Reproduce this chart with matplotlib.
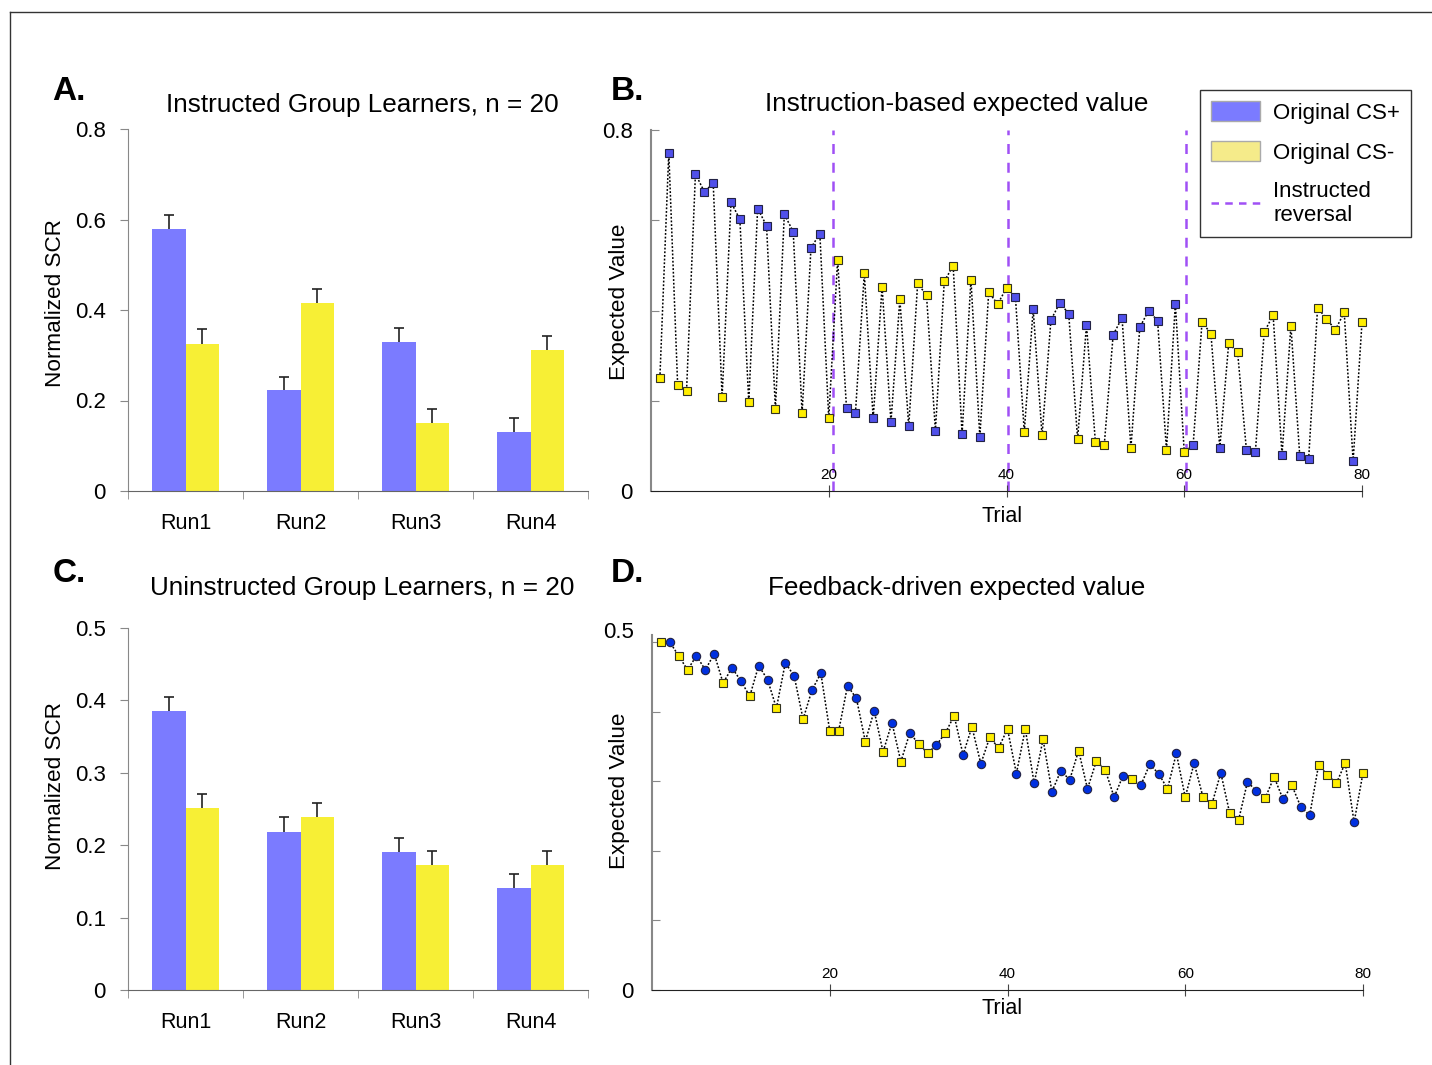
import numpy as np
import matplotlib
matplotlib.use("Agg")
import matplotlib.pyplot as plt
import matplotlib.transforms as mtransforms
from matplotlib.lines import Line2D
from matplotlib.patches import Patch

plt.rcParams['font.family'] = ['Liberation Sans', 'DejaVu Sans']

# ---- data ----
runs = ["Run1", "Run2", "Run3", "Run4"]

instr_cs_plus = [0.579, 0.223, 0.329, 0.130]
instr_cs_plus_err = [0.031, 0.029, 0.031, 0.031]
instr_cs_minus = [0.325, 0.415, 0.150, 0.312]
instr_cs_minus_err = [0.033, 0.031, 0.031, 0.031]

uninstr_cs_plus = [0.385, 0.218, 0.191, 0.141]
uninstr_cs_plus_err = [0.020, 0.021, 0.019, 0.019]
uninstr_cs_minus = [0.251, 0.239, 0.173, 0.173]
uninstr_cs_minus_err = [0.020, 0.019, 0.019, 0.019]

trials = np.arange(1, 81)
# B = original CS+, Y = original CS-
trial_type = ("YBYYBBBYBBYBBYBBYBBY"
              "YBBYBYBYBYYBYYBYBYYY"
              "BYBYBBBYBYYBBYBBBYBY"
              "BYYBYYBBYYBYBBYYYYBY")

instr_ev = [0.251, 0.750, 0.234, 0.222, 0.703, 0.663, 0.682, 0.208, 0.640, 0.602,
            0.197, 0.626, 0.588, 0.182, 0.613, 0.575, 0.172, 0.539, 0.570, 0.161,
            0.513, 0.183, 0.172, 0.482, 0.161, 0.453, 0.153, 0.425, 0.143, 0.460,
            0.434, 0.134, 0.465, 0.499, 0.126, 0.468, 0.120, 0.441, 0.414, 0.450,
            0.431, 0.131, 0.403, 0.123, 0.379, 0.417, 0.393, 0.115, 0.368, 0.109,
            0.102, 0.346, 0.384, 0.096, 0.363, 0.400, 0.377, 0.091, 0.415, 0.086,
            0.102, 0.374, 0.349, 0.096, 0.327, 0.308, 0.090, 0.086, 0.352, 0.390,
            0.080, 0.366, 0.077, 0.072, 0.406, 0.382, 0.357, 0.396, 0.066, 0.374]

feedback_ev = [0.500, 0.500, 0.480, 0.460, 0.480, 0.460, 0.483, 0.441, 0.463, 0.444,
               0.422, 0.466, 0.446, 0.405, 0.470, 0.451, 0.389, 0.431, 0.455, 0.372,
               0.372, 0.437, 0.419, 0.357, 0.401, 0.342, 0.384, 0.328, 0.369, 0.354,
               0.340, 0.352, 0.369, 0.394, 0.338, 0.378, 0.325, 0.363, 0.348, 0.375,
               0.311, 0.375, 0.297, 0.360, 0.285, 0.315, 0.302, 0.344, 0.289, 0.329,
               0.316, 0.277, 0.308, 0.303, 0.294, 0.324, 0.311, 0.289, 0.340, 0.277,
               0.326, 0.277, 0.267, 0.312, 0.254, 0.244, 0.299, 0.286, 0.276, 0.306,
               0.274, 0.294, 0.263, 0.251, 0.323, 0.309, 0.297, 0.326, 0.241, 0.312]

reversals = [20.5, 40.2, 60.2]

# ---- style ----
BAR_BLUE = "#7b7bff"
BAR_YELLOW = "#f7ef35"
DOT_BLUE_B = "#5050ea"
DOT_BLUE_D = "#0030e0"
DOT_YELLOW = "#ffee00"
SPINE = "#888888"

W, H = 1432, 1065
fig = plt.figure(figsize=(W / 100, H / 100), dpi=100)


def px_axes(l, t, r, b):
    return fig.add_axes([l / W, 1 - b / H, (r - l) / W, (b - t) / H])


def ftext(x, y, s, **kw):
    fig.text(x / W, 1 - y / H, s, ha="center", va="center", **kw)


def bar_panel(ax, plus, plus_err, minus, minus_err, ymax, yticks):
    x = np.arange(len(runs))
    w = 0.287
    cap = 0.047
    for offs, vals, errs, col in [(-w / 2, plus, plus_err, BAR_BLUE),
                                  (w / 2, minus, minus_err, BAR_YELLOW)]:
        vals = np.array(vals)
        tops = vals + np.array(errs)
        ax.bar(x + offs, vals, w, color=col, zorder=2)
        ax.vlines(x + offs, vals, tops, color="#222222", lw=1.2, zorder=3)
        ax.hlines(tops, x + offs - cap, x + offs + cap, color="#222222", lw=1.2, zorder=3)
    ax.set_xlim(-0.5, 3.5)
    ax.set_ylim(0, ymax)
    ax.set_xticks(x)
    ax.set_xticklabels(runs, fontsize=15.5)
    ax.set_xticks(np.arange(-0.5, 4.0, 1.0), minor=True)
    ax.tick_params(axis="x", which="major", length=0, pad=16)
    ax.tick_params(axis="x", which="minor", length=6, direction="out", color=SPINE)
    ax.set_yticks(yticks)
    ax.set_yticklabels(["0" if v == 0 else f"{v:g}" for v in yticks], fontsize=16)
    ax.tick_params(axis="y", length=6, direction="out", color=SPINE, pad=10)
    for s in ["top", "right"]:
        ax.spines[s].set_visible(False)
    ax.spines["left"].set_color(SPINE)
    ax.spines["bottom"].set_color("#666666")


def ev_panel(ax, values, blue_col, blue_marker, ymax, yticks, ms_b, ms_y):
    vals = np.array(values)
    is_plus = np.array([c == "B" for c in trial_type])
    ax.plot(trials, vals, linestyle=(0, (1.2, 1.2)), color="black", lw=1.1, zorder=2,
            clip_on=False)
    ax.plot(trials[is_plus], vals[is_plus], linestyle="none", marker=blue_marker,
            ms=ms_b, mfc=blue_col, mec="#222244", mew=0.8, zorder=3, clip_on=False)
    ax.plot(trials[~is_plus], vals[~is_plus], linestyle="none", marker="s",
            ms=ms_y, mfc=DOT_YELLOW, mec="#333322", mew=0.8, zorder=3, clip_on=False)
    ax.set_xlim(0, 80)
    ax.set_ylim(0, ymax)
    ax.set_xticks([20, 40, 60, 80])
    ax.set_xticklabels(["20", "40", "60", "80"], fontsize=11)
    ax.tick_params(axis="x", direction="inout", length=9, pad=-21, color="#444444")
    ax.set_yticks(yticks)
    ax.set_yticklabels(["0"] + [""] * (len(yticks) - 2) + [f"{yticks[-1]:g}"], fontsize=16)
    ax.tick_params(axis="y", direction="in", length=6, color=SPINE, pad=13)
    for s in ["top", "right"]:
        ax.spines[s].set_visible(False)
    ax.spines["left"].set_color(SPINE)
    ax.spines["left"].set_linewidth(1.5)
    ax.spines["bottom"].set_color("#222222")


# ---- panel A ----
ax_a = px_axes(128, 129, 588, 491)
bar_panel(ax_a, instr_cs_plus, instr_cs_plus_err, instr_cs_minus, instr_cs_minus_err,
          0.8, [0, 0.2, 0.4, 0.6, 0.8])

# ---- panel C ----
ax_c = px_axes(128, 628, 588, 990)
bar_panel(ax_c, uninstr_cs_plus, uninstr_cs_plus_err, uninstr_cs_minus, uninstr_cs_minus_err,
          0.5, [0, 0.1, 0.2, 0.3, 0.4, 0.5])

# ---- panel B ----
ax_b = px_axes(651, 130, 1362, 491)
ev_panel(ax_b, instr_ev, DOT_BLUE_B, "s", 0.8, [0, 0.2, 0.4, 0.6, 0.8], 6.3, 6.3)
for r in reversals:
    ax_b.axvline(r, color="#a050f5", lw=1.8, linestyle=(0, (4, 3.5)), zorder=1)

handles = [Patch(facecolor=BAR_BLUE, edgecolor="#aaaaaa"),
           Patch(facecolor="#f5eb8a", edgecolor="#aaaaaa"),
           Line2D([0], [0], color="#a050f5", lw=1.8, linestyle=(0, (3, 2.5)))]
leg = ax_b.legend(handles, ["Original CS+", "Original CS-", "Instructed\nreversal"],
                  loc="upper left", bbox_to_anchor=(1200 / W, 1 - 90 / H),
                  bbox_transform=fig.transFigure, fontsize=16, frameon=True,
                  fancybox=False, edgecolor="black", handlelength=2.2, handleheight=1.0,
                  labelspacing=0.78, borderpad=0.5, handletextpad=0.6, borderaxespad=0)
leg.get_frame().set_linewidth(1.0)

# ---- panel D ----
ax_d = px_axes(652, 635, 1363, 990)
ev_panel(ax_d, feedback_ev, DOT_BLUE_D, "o", 0.51, [0, 0.1, 0.2, 0.3, 0.4, 0.5], 6.0, 5.6)
# top label of D sits a little above its tick in the original
top_lbl = ax_d.get_yticklabels()[-1]
top_lbl.set_transform(top_lbl.get_transform()
                      + mtransforms.ScaledTranslation(0, 12 / 100, fig.dpi_scale_trans))

# ---- texts ----
ftext(362, 105, "Instructed Group Learners, n = 20", fontsize=18.8)
ftext(957, 104, "Instruction-based expected value", fontsize=18.8)
ftext(362, 588, "Uninstructed Group Learners, n = 20", fontsize=18.8)
ftext(957, 588, "Feedback-driven expected value", fontsize=18.8)

for (x, y, s) in [(69, 92, "A."), (627, 92, "B."), (69, 574, "C."), (627, 574, "D.")]:
    ftext(x, y, s, fontsize=24, fontweight="bold")

ftext(56, 303, "Normalized SCR", fontsize=16.2, rotation=90)
ftext(56, 786, "Normalized SCR", fontsize=16.2, rotation=90)
ftext(620, 302, "Expected Value", fontsize=16.2, rotation=90)
ftext(620, 791, "Expected Value", fontsize=16.2, rotation=90)
ftext(1002, 516, "Trial", fontsize=15.5)
ftext(1002, 1008, "Trial", fontsize=15.5)

# outer frame lines (top and left)
fig.add_artist(Line2D([10 / W, 1], [1 - 12 / H, 1 - 12 / H], color="#333333", lw=1,
                      transform=fig.transFigure))
fig.add_artist(Line2D([10 / W, 10 / W], [0, 1 - 12 / H], color="#333333", lw=1,
                      transform=fig.transFigure))

fig.savefig("out.png", dpi=100)
